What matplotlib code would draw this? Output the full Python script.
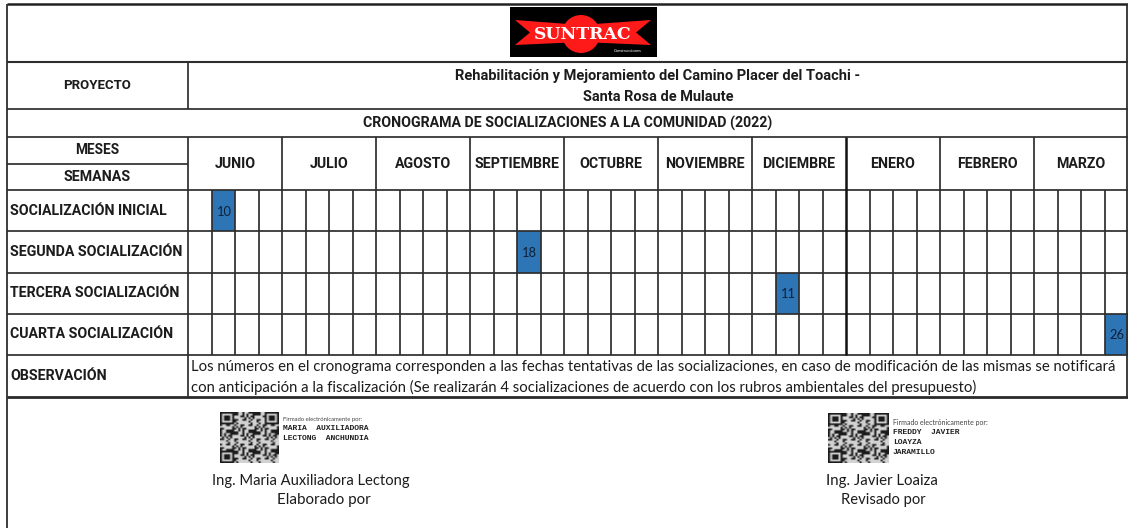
import matplotlib
matplotlib.use("Agg")
import matplotlib.pyplot as plt
from matplotlib.patches import Rectangle, Polygon, Circle
import numpy as np

# ---------------- data ----------------
months = ["JUNIO", "JULIO", "AGOSTO", "SEPTIEMBRE", "OCTUBRE", "NOVIEMBRE",
          "DICIEMBRE", "ENERO", "FEBRERO", "MARZO"]
weeks_per_month = 4
activities = ["SOCIALIZACIÓN INICIAL", "SEGUNDA SOCIALIZACIÓN",
              "TERCERA SOCIALIZACIÓN", "CUARTA SOCIALIZACIÓN"]
activity_month = [0, 3, 6, 9]      # index into months
activity_week = [2, 3, 2, 4]       # week within month (1-based)
activity_day = ["10", "18", "11", "26"]

project_lines = ["Rehabilitación y Mejoramiento del Camino Placer del Toachi -",
                 "Santa Rosa de Mulaute"]
schedule_title = "CRONOGRAMA DE SOCIALIZACIONES A LA COMUNIDAD (2022)"
obs_lines = ["Los números en el cronograma corresponden a las fechas tentativas de las socializaciones, en caso de modificación de las mismas se notificará",
             "con anticipación a la fiscalización (Se realizarán 4 socializaciones de acuerdo con los rubros ambientales del presupuesto)"]
signers = [("MARIA  AUXILIADORA\nLECTONG  ANCHUNDIA", "Ing. Maria Auxiliadora Lectong", "Elaborado por"),
           ("FREDDY  JAVIER\nLOAYZA\nJARAMILLO", "Ing. Javier Loaiza", "Revisado por")]

# ---------------- layout ----------------
W, H = 1128, 528
X0, XL, XR = 7, 188, 1128
Y_TOP, Y_LOGO, Y_PROJ, Y_CRON, Y_MES, Y_SEM = 4, 62, 109, 137, 164, 190
Y_ROWS_END, Y_OBS = 355, 397
n_weeks = len(months) * weeks_per_month
ww = (XR - XL) / n_weeks
rh = (Y_ROWS_END - Y_SEM) / len(activities)

LINE = "#2e2e2e"
LW = 1.25
BLUE = "#2e75b6"
TXT = "#1c1c1c"
FONT = ["Lato", "DejaVu Sans"]
BFONT = ["Roboto", "DejaVu Sans"]

fig = plt.figure(figsize=(W / 100, H / 100), dpi=100)
ax = fig.add_axes([0, 0, 1, 1])
ax.axis("off")
ax.set_xlim(0, W)
ax.set_ylim(H, 0)
renderer = fig.canvas.get_renderer()


def txt(x, y, s, width=None, size=8.0, ha="center", weight="normal",
        family=None, color=TXT, **kw):
    if family is None:
        family = BFONT if weight == "bold" else FONT
    t = ax.text(x, y, s, ha=ha, va="center", fontsize=size, fontweight=weight,
                family=family, color=color, **kw)
    if width:
        bb = t.get_window_extent(renderer)
        t.set_fontsize(size * width / bb.width)
    return t


def hline(y, x1, x2, lw=LW, color=LINE):
    ax.plot([x1, x2], [y, y], color=color, lw=lw, solid_capstyle="butt")


def vline(x, y1, y2, lw=LW, color=LINE):
    ax.plot([x, x], [y1, y2], color=color, lw=lw, solid_capstyle="butt")


# ---------------- blue cells ----------------
for r, (m, w, d) in enumerate(zip(activity_month, activity_week, activity_day)):
    col = m * weeks_per_month + (w - 1)
    x = XL + col * ww
    y = Y_SEM + r * rh
    ax.add_patch(Rectangle((x, y), ww, rh, facecolor=BLUE, edgecolor="none", zorder=1))
    txt(x + ww / 2 + 1, y + rh / 2 + 1, d, size=9.3, color="#0f1f38", zorder=3)

# ---------------- borders / grid ----------------
hline(Y_TOP, X0, W, lw=1.8, color="#222222")
vline(X0, Y_TOP, H, lw=1.3)
vline(W - 1, Y_TOP, Y_OBS, lw=1.3)
hline(Y_LOGO, X0, W, lw=1.5)
hline(Y_PROJ, X0, W)
hline(Y_CRON, X0, W)
hline(Y_MES, X0, XL)
hline(Y_SEM, X0, W)
for r in range(1, len(activities) + 1):
    hline(Y_SEM + r * rh, X0, W)
hline(Y_OBS, X0, W, lw=2.0, color="#2a2a2a")
vline(XL, Y_LOGO, Y_PROJ)
vline(XL, Y_CRON, Y_OBS)
for k in range(1, len(months)):
    x = XL + k * weeks_per_month * ww
    thick = months[k] == "ENERO"
    vline(x, Y_CRON, Y_ROWS_END, lw=1.8 if thick else LW,
          color="#111111" if thick else LINE)
for c in range(1, n_weeks):
    if c % weeks_per_month:
        vline(XL + c * ww, Y_SEM, Y_ROWS_END, lw=LW)

# ---------------- logo ----------------
ax.add_patch(Rectangle((510, 7), 147, 50, facecolor="black", edgecolor="none"))
ax.add_patch(Circle((581, 34), 19, facecolor="#ff1a1a", edgecolor="none"))
ax.add_patch(Polygon([(515, 20), (581, 25), (651, 20), (636, 32.5), (651, 45),
                      (581, 42), (515, 45), (530, 32.5)],
                     closed=True, facecolor="#ff1a1a", edgecolor="none"))
txt(583, 34.5, "SUNTRAC", width=97, size=12, weight="bold",
    family=["DejaVu Serif"], color="white")
txt(628, 51, "Construcciones", width=28, size=3, color="white")

# ---------------- header texts ----------------
txt((X0 + XL) / 2, (Y_LOGO + Y_PROJ) / 2, "PROYECTO", width=68, weight="bold")
txt((XL + XR) / 2, 76, project_lines[0], width=408, weight="bold")
txt((XL + XR) / 2, 97, project_lines[1], width=151, weight="bold")
txt((X0 + W) / 2, (Y_PROJ + Y_CRON) / 2, schedule_title, width=409, weight="bold")
txt((X0 + XL) / 2, (Y_CRON + Y_MES) / 2, "MESES", width=44, weight="bold")
txt((X0 + XL) / 2, (Y_MES + Y_SEM) / 2, "SEMANAS", width=67, weight="bold")

ref = txt(W / 2, H / 2, "SEGUNDA SOCIALIZACIÓN", width=172, weight="bold")
LBL = ref.get_fontsize()
ref.remove()
for k, m in enumerate(months):
    cx = XL + (k + 0.5) * weeks_per_month * ww
    txt(cx, (Y_CRON + Y_SEM) / 2, m, size=LBL, weight="bold")
for r, a in enumerate(activities):
    txt(10, Y_SEM + (r + 0.5) * rh, a, size=LBL, weight="bold", ha="left")
txt(10, (Y_ROWS_END + Y_OBS) / 2, "OBSERVACIÓN", size=LBL, weight="bold", ha="left")

o1 = txt(191, 367, obs_lines[0], width=931, ha="left")
txt(191, 387, obs_lines[1], size=o1.get_fontsize(), ha="left")

# ---------------- signatures ----------------
n = 29
ii, jj = np.mgrid[0:n, 0:n]
qr = (((ii * ii * 3 + jj * jj * 5 + ii * jj) % 11) < 5).astype(float)
for (r0, c0) in [(0, 0), (0, n - 7), (n - 7, 0)]:
    qr[r0:r0 + 7, c0:c0 + 7] = 1
    qr[r0 + 1:r0 + 6, c0 + 1:c0 + 6] = 0
    qr[r0 + 2:r0 + 5, c0 + 2:c0 + 5] = 1

sig_qr = [(220, 279, 412, 463), (828, 889, 413, 463)]
sig_name_y = [(419, 429, 438), (423, 432, 442, 452)]
sig_center = [311, 882]
for s, (box, (names, ing, role)) in enumerate(zip(sig_qr, signers)):
    x1, x2, y1, y2 = box
    ax.imshow(qr, cmap="gray_r", vmin=-0.25, vmax=1.15, interpolation="bilinear",
              extent=(x1, x2, y2, y1), aspect="auto", zorder=2)
    ys = sig_name_y[s]
    txt(x2 + 4, ys[0], "Firmado electrónicamente por:", width=78 if s == 0 else 92,
        size=3, ha="left", color="#444444")
    for nm, yy in zip(names.split("\n"), ys[1:]):
        txt(x2 + 4, yy, nm, size=5.8, weight="bold", ha="left",
            family=["Liberation Mono", "DejaVu Sans Mono"], color="#222222")
    txt(sig_center[s], 481, ing, width=199 if s == 0 else 112)
    txt(sig_center[s] + (13 if s == 0 else 1), 500, role, width=94 if s == 0 else 85)

ax.set_xlim(0, W)
ax.set_ylim(H, 0)
fig.savefig("out.png", dpi=100)
